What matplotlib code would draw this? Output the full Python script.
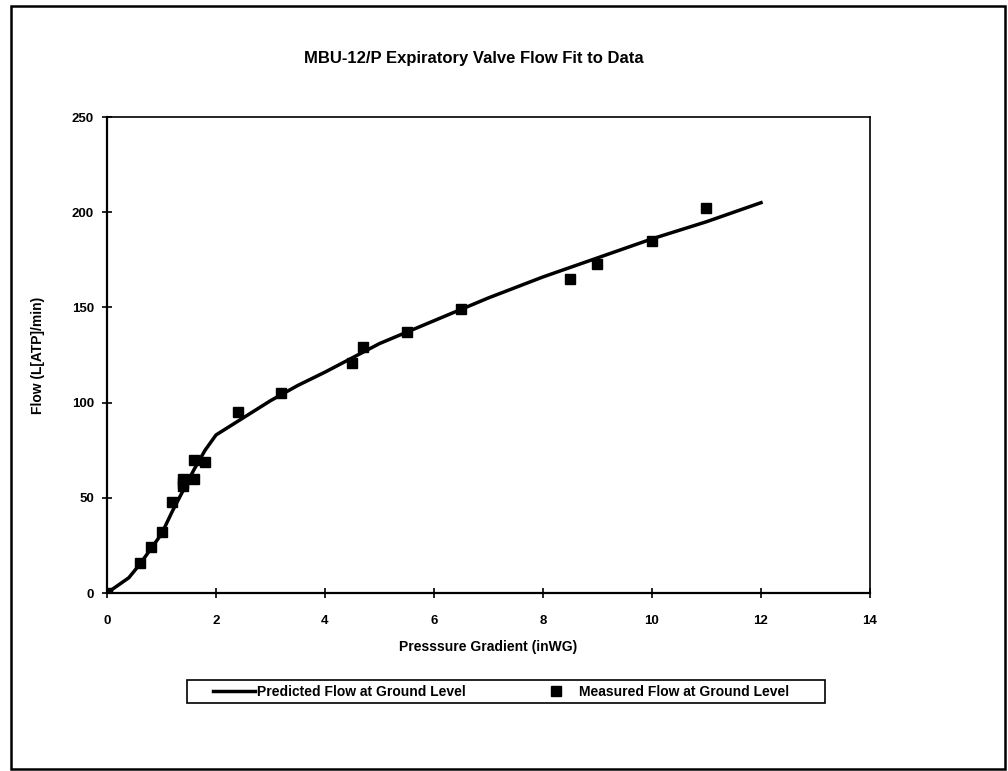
import matplotlib
matplotlib.use("Agg")
from matplotlib import pyplot as plt
from matplotlib.patches import Rectangle

plt.rcParams['font.family'] = ['Liberation Sans', 'DejaVu Sans']
plt.rcParams['font.weight'] = 'bold'

# predicted flow curve (inWG vs L[ATP]/min)
pred_dp = [0, 0.2, 0.4, 0.6, 0.8, 1.0, 1.2, 1.4, 1.6, 1.8, 2.0, 2.5, 3.0, 3.5,
           4.0, 5.0, 6.0, 7.0, 8.0, 9.0, 10.0, 11.0, 12.0]
pred_flow = [0, 4, 8, 15, 23, 31, 43, 54, 65, 75, 83, 92, 101, 109,
             116, 131, 143, 155, 166, 176, 186, 195, 205]

# measured flow at ground level
meas_dp = [0, 0.6, 0.8, 1.0, 1.2, 1.4, 1.4, 1.4, 1.6, 1.6, 1.8, 2.4, 3.2,
           4.5, 4.7, 5.5, 6.5, 8.5, 9.0, 10.0, 11.0]
meas_flow = [0, 16, 24, 32, 48, 56, 58, 60, 60, 70, 69, 95, 105,
             121, 129, 137, 149, 165, 173, 185, 202]

xticks = [0, 2, 4, 6, 8, 10, 12, 14]
yticks = [0, 50, 100, 150, 200, 250]

W, H = 1008, 771
fig = plt.figure(figsize=(W / 100, H / 100), dpi=100)
ax = fig.add_axes([107 / W, 1 - 593 / H, (870 - 107) / W, (593 - 117) / H])

ax.plot(pred_dp, pred_flow, color='black', linewidth=2.5,
        label='Predicted Flow at Ground Level', zorder=3)
ax.plot(meas_dp, meas_flow, linestyle='none', marker='s', markersize=6.5,
        color='black', label='Measured Flow at Ground Level', zorder=4)

ax.set_xlim(0, 14)
ax.set_ylim(0, 250)
ax.set_xticks(xticks)
ax.set_yticks(yticks)
ax.tick_params(direction='inout', length=7, width=1.2, labelsize=9.5, pad=12)
ax.tick_params(axis='y', pad=6)
for lab in ax.get_xticklabels() + ax.get_yticklabels():
    lab.set_fontweight('bold')
for side in ['left', 'bottom']:
    ax.spines[side].set_linewidth(1.6)
for side in ['top', 'right']:
    ax.spines[side].set_linewidth(1.2)
ax.spines['left'].set_zorder(5)
ax.spines['bottom'].set_zorder(5)

ax.set_xlabel('Presssure Gradient (inWG)', fontsize=10, fontweight='bold', labelpad=10)
ax.set_ylabel('Flow (L[ATP]/min)', fontsize=10, fontweight='bold', labelpad=19)

fig.text(474 / W, 1 - 58 / H, 'MBU-12/P Expiratory Valve Flow Fit to Data',
         ha='center', va='center', fontsize=12, fontweight='bold')

# legend entries laid out in one row, boxed separately below
leg = fig.legend(loc='center left', bbox_to_anchor=(213 / W, 1 - 691.5 / H), ncol=2,
                 frameon=False, fontsize=10, handlelength=3.0,
                 columnspacing=5.0, borderpad=0, borderaxespad=0,
                 handletextpad=0.15)
for t in leg.get_texts():
    t.set_fontweight('bold')
fig.patches.append(Rectangle((187 / W, 1 - 703 / H), (825 - 187) / W, 23 / H,
                             transform=fig.transFigure, fill=False,
                             edgecolor='black', linewidth=1.2))

# outer frame around the whole chart
fig.patches.append(Rectangle((11 / W, 2 / H), 994 / W, 763 / H,
                             transform=fig.transFigure, fill=False,
                             edgecolor='black', linewidth=1.8))

fig.savefig('out.png', dpi=100)
